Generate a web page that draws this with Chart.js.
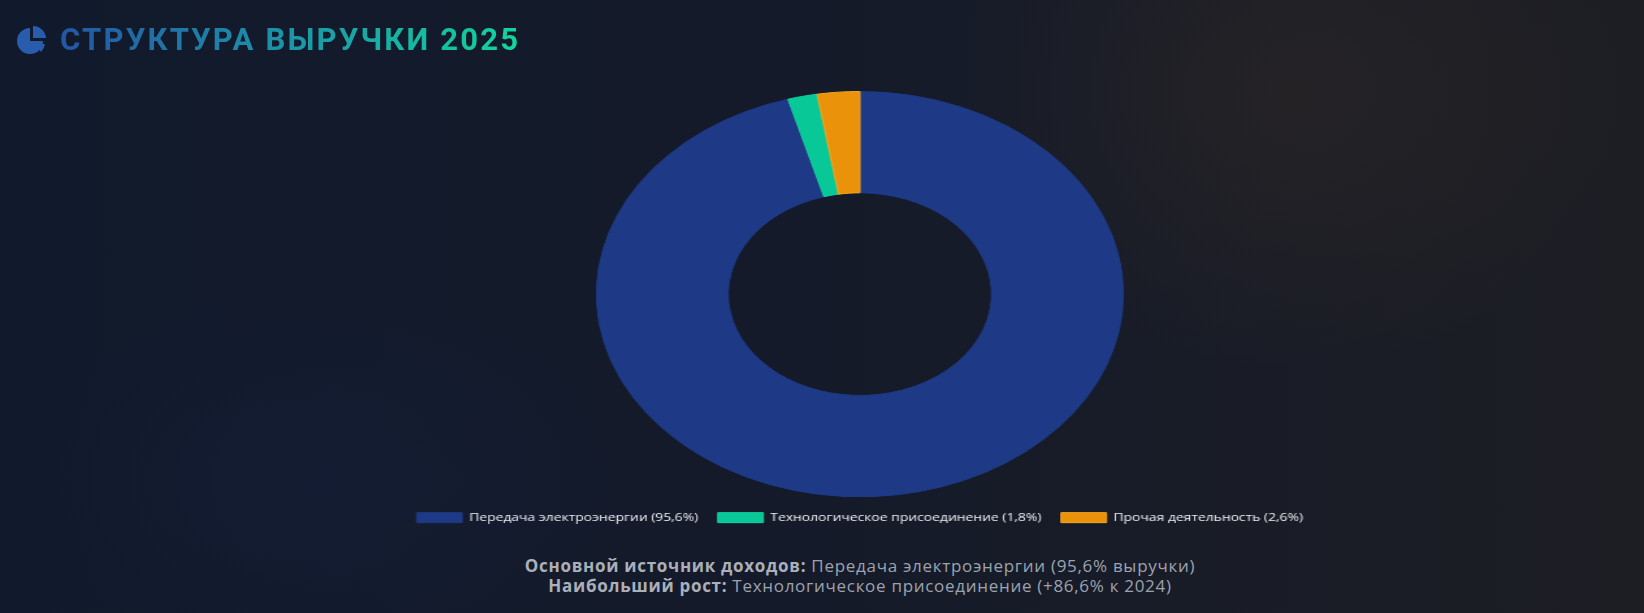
<!DOCTYPE html>
<html lang="ru">
<head>
    <meta charset="UTF-8">
    <title>Структура выручки 2025</title>
    <script src="https://cdn.jsdelivr.net/npm/chart.js"></script>
    <style>
        body {
            margin: 0;
            width: 1644px;
            height: 613px;
            overflow: hidden;
            font-family: 'Open Sans', sans-serif;
            background:
                radial-gradient(ellipse 340px 280px at 1290px 90px, rgba(120, 80, 30, 0.12), transparent),
                radial-gradient(ellipse 300px 200px at 330px 480px, rgba(30, 58, 138, 0.08), transparent),
                linear-gradient(90deg, #111a2c 0%, #141a2a 45%, #1d1e24 100%);
            position: relative;
        }
        h1 {
            position: absolute;
            left: 16px;
            top: 21px;
            margin: 0;
            font-family: Roboto, sans-serif;
            font-weight: 700;
            font-size: 31px;
            letter-spacing: 2.2px;
            display: flex;
            align-items: center;
        }
        h1 svg {
            width: 32px;
            height: 30px;
            margin-right: 12px;
        }
        h1 span {
            background: linear-gradient(90deg, #2456a6 0%, #1c8fa8 45%, #12d69c 100%);
            -webkit-background-clip: text;
            background-clip: text;
            color: transparent;
        }
        .chart-wrap {
            position: absolute;
            left: 76px;
            top: 91px;
            width: 1206px;
            height: 442px;
            transform: scale(1.3, 1);
            transform-origin: 0 0;
        }
        .summary {
            position: absolute;
            left: 76px;
            width: 1568px;
            top: 556px;
            text-align: center;
            font-size: 17px;
            line-height: 20px;
            letter-spacing: 0.7px;
            color: #9ca3af;
        }
        .summary b {
            color: #aab0b9;
        }
    </style>
</head>
<body>

<h1>
    <svg viewBox="0 0 32 30">
        <path d="M14 3 A13 13 0 1 0 27 16 L14 16 Z" fill="#2a5cae"/>
        <path d="M17 1 A13 13 0 0 1 30 13 L17 13 Z" fill="#2a5cae"/>
        <path d="M18 19 L29 19 A13 13 0 0 1 25 27 Z" fill="#2a5cae"/>
    </svg>
    <span>СТРУКТУРА ВЫРУЧКИ 2025</span>
</h1>

<div class="chart-wrap">
    <canvas id="revenueChart"></canvas>
</div>

<div class="summary">
    <b>Основной источник доходов:</b> Передача электроэнергии (95,6% выручки)<br>
    <b>Наибольший рост:</b> Технологическое присоединение (+86,6% к 2024)
</div>

<script>
    // revenue split 2025, % of total
    const labels = ['Передача электроэнергии (95,6%)', 'Технологическое присоединение (1,8%)', 'Прочая деятельность (2,6%)'];
    const shares = [95.6, 1.8, 2.6];
    const colors = ['#1e3a86', '#07c896', '#ea920a'];
    const borders = ['#1e3a86', '#10d4a0', '#f5a623'];

    const ctx = document.getElementById('revenueChart').getContext('2d');
    new Chart(ctx, {
        type: 'doughnut',
        data: {
            labels: labels,
            datasets: [{
                data: shares,
                backgroundColor: colors,
                borderColor: borders,
                borderWidth: 1
            }]
        },
        options: {
            responsive: true,
            maintainAspectRatio: false,
            animation: false,
            cutout: '50%',
            layout: { padding: 0 },
            plugins: {
                legend: {
                    position: 'bottom',
                    labels: {
                        color: '#eceef2',
                        boxWidth: 35,
                        boxHeight: 10,
                        padding: 15,
                        font: { family: "'Open Sans'", size: 10.7 }
                    }
                },
                tooltip: { enabled: false }
            }
        }
    });
</script>

</body>
</html>
